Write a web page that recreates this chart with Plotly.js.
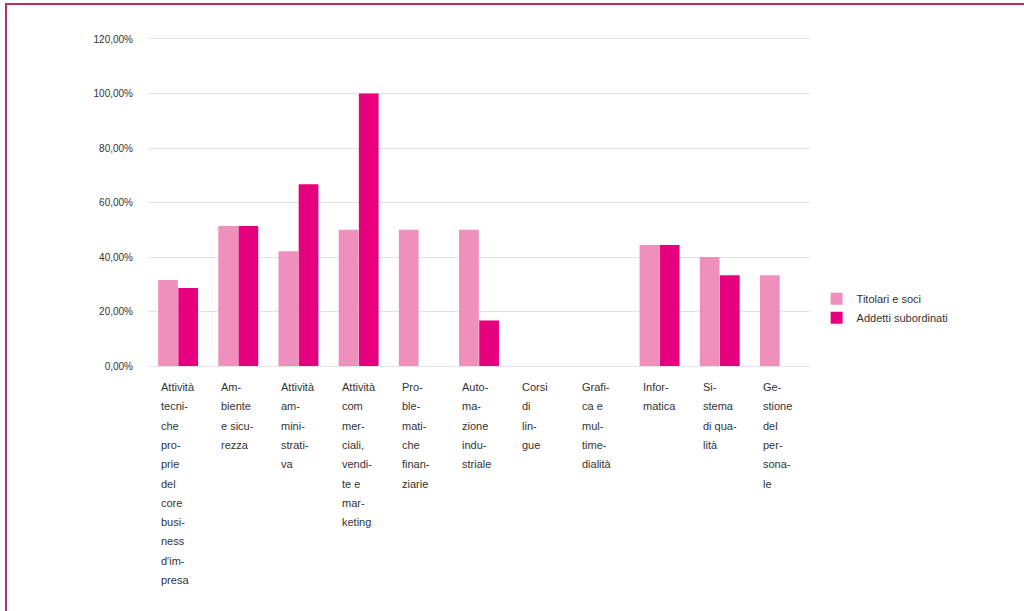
<!DOCTYPE html>
<html>
<head>
<meta charset="utf-8">
<script src="https://cdn.plot.ly/plotly-3.0.1.min.js"></script>
<style>
html,body{margin:0;padding:0;background:#fff;}
#chart{position:absolute;left:0;top:0;width:1024px;height:611px;}
#bt{position:absolute;left:5px;top:3px;width:1019px;height:2px;background:#b8305e;}
#bl{position:absolute;left:5px;top:3px;width:2px;height:608px;background:#b8305e;}
</style>
</head>
<body>
<div id="chart"></div>
<div id="bt"></div>
<div id="bl"></div>
<script>
// Category labels (line-wrapped as in the original)
var labelLines = [
  ["Attività","tecni-","che","pro-","prie","del","core","busi-","ness","d'im-","presa"],
  ["Am-","biente","e sicu-","rezza"],
  ["Attività","am-","mini-","strati-","va"],
  ["Attività","com","mer-","ciali,","vendi-","te e","mar-","keting"],
  ["Pro-","ble-","mati-","che","finan-","ziarie"],
  ["Auto-","ma-","zione","indu-","striale"],
  ["Corsi","di","lin-","gue"],
  ["Grafi-","ca e","mul-","time-","dialità"],
  ["Infor-","matica"],
  ["Si-","stema","di qua-","lità"],
  ["Ge-","stione","del","per-","sona-","le"]
];
var categories = [
  "Attività tecniche proprie del core business d'impresa",
  "Ambiente e sicurezza",
  "Attività amministrativa",
  "Attività commerciali, vendite e marketing",
  "Problematiche finanziarie",
  "Automazione industriale",
  "Corsi di lingue",
  "Grafica e multimedialità",
  "Informatica",
  "Sistema di qualità",
  "Gestione del personale"
];
var seriesNames = ["Titolari e soci", "Addetti subordinati"];
var titolari = [31.6, 51.4, 42.1, 50.0, 50.0, 50.0, 0, 0, 44.4, 40.0, 33.3];
var addetti  = [28.6, 51.4, 66.7, 100.0, 0, 16.7, 0, 0, 44.4, 33.3, 0];
var yTicks = [0, 20, 40, 60, 80, 100, 120];
var yTickText = yTicks.map(function(v){ return v.toFixed(2).replace(".", ",") + "%"; });

var FONT = "Liberation Sans, Arial, sans-serif";

var traces = [
  {type:"bar", name:seriesNames[0], x:categories, y:titolari,
   marker:{color:"#ef8fbc"}, hoverinfo:"x+y"},
  {type:"bar", name:seriesNames[1], x:categories, y:addetti,
   marker:{color:"#e6007e"}, hoverinfo:"x+y"}
];

var annotations = [];
labelLines.forEach(function(lines, ci){
  lines.forEach(function(line, li){
    annotations.push({
      x: categories[ci], y: 0, xref:"x", yref:"y",
      text: line, showarrow:false,
      xanchor:"left", yanchor:"top",
      xshift:-19, yshift:-(13 + li*19.3),
      font:{family:FONT, size:11, color:"#333"}
    });
  });
});

var layout = {
  width:1024, height:611,
  margin:{l:148, r:214, t:39, b:245, pad:0},
  paper_bgcolor:"#fff", plot_bgcolor:"#fff",
  barmode:"group", bargap:0.33, bargroupgap:0.02,
  font:{family:FONT, size:11, color:"#333"},
  xaxis:{showticklabels:false, showgrid:false, zeroline:false,
         showline:true, linecolor:"#e4e4e4", mirror:true, ticks:""},
  yaxis:{range:[0,120], tickmode:"array", tickvals:yTicks, ticktext:yTickText,
         showgrid:true, gridcolor:"#e3e3e3", gridwidth:1, zeroline:false,
         showline:false, ticks:"outside", ticklen:12, tickcolor:"rgba(0,0,0,0)",
         tickfont:{family:FONT, size:10, color:"#333"}},
  showlegend:true,
  legend:{x:1.01, y:0.25, xanchor:"left", yanchor:"top",
          font:{family:FONT, size:11, color:"#333"},
          itemwidth:30, tracegroupgap:0, bgcolor:"rgba(0,0,0,0)"},
  annotations:annotations
};

Plotly.newPlot("chart", traces, layout, {displayModeBar:false, staticPlot:true});
</script>
</body>
</html>
